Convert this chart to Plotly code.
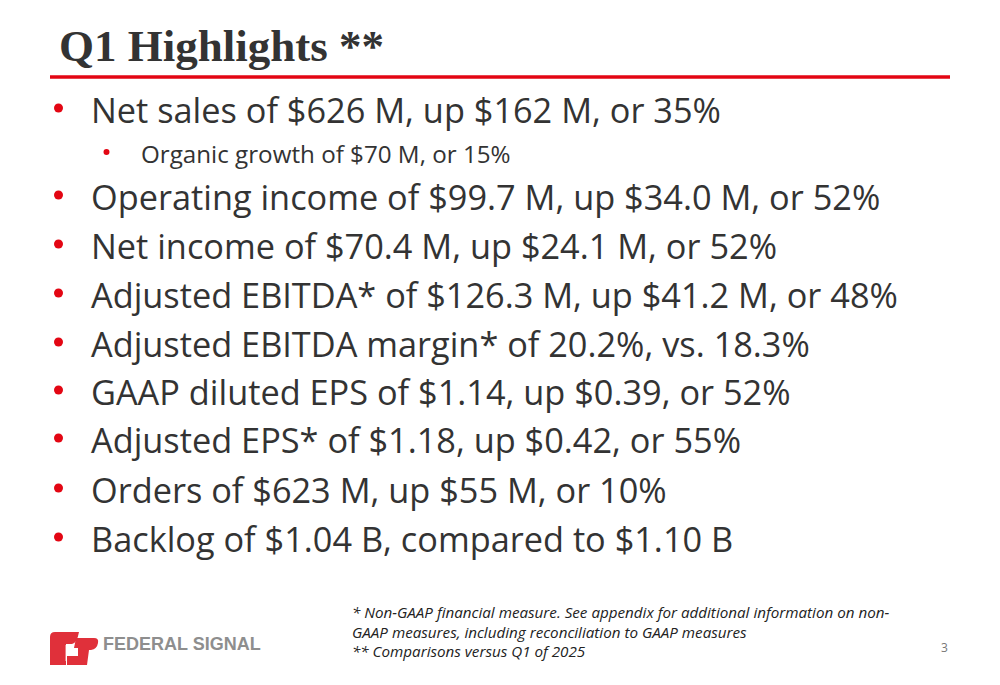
import plotly.graph_objects as go

# slide content
title_text = 'Q1 Highlights **'
bullets = [
    'Net sales of $626 M, up $162 M, or 35%',
    'Organic growth of $70 M, or 15%',
    'Operating income of $99.7 M, up $34.0 M, or 52%',
    'Net income of $70.4 M, up $24.1 M, or 52%',
    'Adjusted EBITDA* of $126.3 M, up $41.2 M, or 48%',
    'Adjusted EBITDA margin* of 20.2%, vs. 18.3%',
    'GAAP diluted EPS of $1.14, up $0.39, or 52%',
    'Adjusted EPS* of $1.18, up $0.42, or 55%',
    'Orders of $623 M, up $55 M, or 10%',
    'Backlog of $1.04 B, compared to $1.10 B',
]
bullet_levels = [0, 1, 0, 0, 0, 0, 0, 0, 0, 0]
bullet_rows = [108, 152, 195, 244, 293, 342, 390, 438, 488, 537]
footnotes = [
    '* Non-GAAP financial measure. See appendix for additional information on non-',
    'GAAP measures, including reconciliation to GAAP measures',
    '** Comparisons versus Q1 of 2025',
]
footnote_rows = [612, 632, 651]
page_number = '3'
logo_text = 'FEDERAL SIGNAL'

RED = '#E30613'
TEXT = '#333333'
BODY_FONT = 'Open Sans'
OFFSET = 8  # page body margin in the browser

fig = go.Figure()

annotations = []
shapes = [
    # red rule under the title
    dict(type='line', x0=50, x1=950, y0=77, y1=77, line=dict(color=RED, width=3.5)),
]

annotations.append(dict(
    x=57, y=46, text='<b>' + title_text + '</b>', showarrow=False,
    xanchor='left', yanchor='middle',
    font=dict(family='Liberation Serif', size=45, color=TEXT),
))

for label, level, row in zip(bullets, bullet_levels, bullet_rows):
    if level == 0:
        bx, tx, size, r = 58.5, 89, 34.3, 4.5
    else:
        bx, tx, size, r = 106.5, 139, 24.2, 3
    shapes.append(dict(
        type='circle', x0=bx - r, x1=bx + r, y0=row - r, y1=row + r,
        fillcolor=RED, line=dict(width=0),
    ))
    annotations.append(dict(
        x=tx, y=row + 1, text=label, showarrow=False, xanchor='left', yanchor='middle',
        font=dict(family=BODY_FONT, size=size, color=TEXT),
    ))

for note, row in zip(footnotes, footnote_rows):
    annotations.append(dict(
        x=350, y=row, text='<i>' + note + '</i>', showarrow=False,
        xanchor='left', yanchor='middle',
        font=dict(family=BODY_FONT, size=15.2, color='#222222'),
    ))

annotations.append(dict(
    x=944, y=647, text=page_number, showarrow=False, xanchor='center', yanchor='middle',
    font=dict(family=BODY_FONT, size=12, color='#777777'),
))
annotations.append(dict(
    x=101, y=644, text='<b>' + logo_text + '</b>', showarrow=False,
    xanchor='left', yanchor='middle',
    font=dict(family='Liberation Sans', size=18, color='#8E8E8E'),
))

LOGO = '#E0303A'
shapes += [
    # logo mark (rough "fs" blocks)
    dict(type='path', path='M 50 637 Q 50 632 55 632 L 79 632 Q 77 643 72 644 L 66 644 L 66 665 L 50 665 Z',
         fillcolor=LOGO, line=dict(width=0)),
    dict(type='path', path='M 76 638 L 94 638 Q 99 638 98 643 Q 97 649 91 650 L 89 650 L 87 665 L 67 665 L 67 656 L 78 656 L 78 648 L 74 648 Z',
         fillcolor=LOGO, line=dict(width=0)),
    dict(type='path', path='M 66 645 L 66 661 M 66 652 L 78 652',
         line=dict(color='white', width=0.8)),
]

fig.update_layout(
    width=1000, height=685,
    margin=dict(l=0, r=0, t=0, b=0),
    paper_bgcolor='white', plot_bgcolor='white',
    xaxis=dict(range=[OFFSET, 1000 + OFFSET], visible=False, fixedrange=True),
    yaxis=dict(range=[685 + OFFSET, OFFSET], visible=False, fixedrange=True),
    annotations=annotations,
    shapes=shapes,
    showlegend=False,
)

fig.write_html('out.html')
